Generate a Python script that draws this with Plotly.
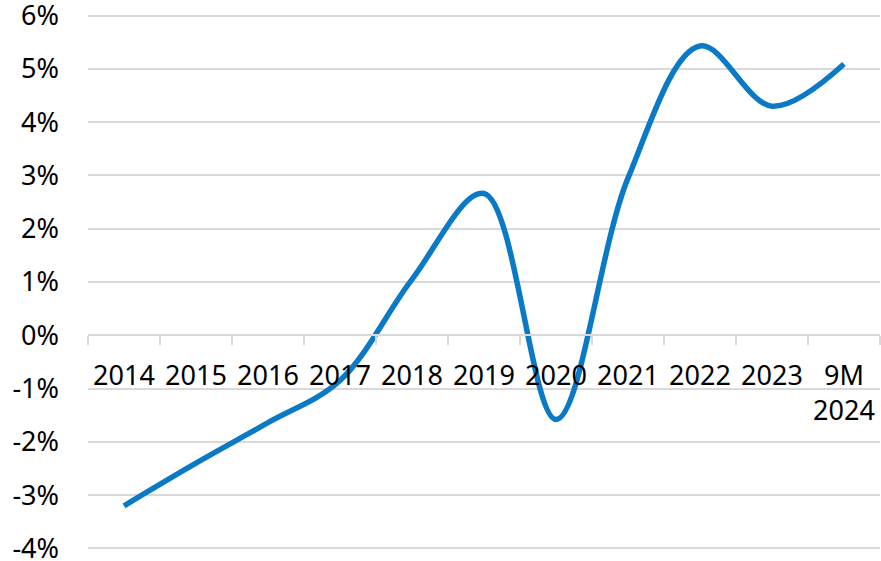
import plotly.graph_objects as go

# Annual growth, %
categories = ["2014", "2015", "2016", "2017", "2018", "2019", "2020",
              "2021", "2022", "2023", "9M<br>2024"]
growth = [-3.2, -2.4, -1.64, -0.85, 1.05, 2.66, -1.58, 2.95, 5.43, 4.3, 5.09]

y_ticks = [-4, -3, -2, -1, 0, 1, 2, 3, 4, 5, 6]
y_tick_text = [f"{v}%" for v in y_ticks]

FONT = "Noto Sans"
GRID = "#d9d9d9"

# small padding so the outermost gridlines and labels are kept
y_range = [-4.03, 6.03]
zero_pos = (0 - y_range[0]) / (y_range[1] - y_range[0])

fig = go.Figure(
    go.Scatter(
        x=categories,
        y=growth,
        mode="lines",
        line=dict(color="#0a7ac6", width=5.5, shape="spline", smoothing=1.0),
        hoverinfo="x+y",
    )
)

fig.update_layout(
    width=881,
    height=561,
    margin=dict(l=88, r=1, t=14, b=11),
    paper_bgcolor="white",
    plot_bgcolor="white",
    showlegend=False,
    font=dict(family=FONT, size=27, color="#000000"),
    xaxis=dict(
        type="category",
        anchor="free",
        position=zero_pos,
        automargin=False,
        showline=True,
        linecolor=GRID,
        linewidth=2,
        showgrid=False,
        zeroline=False,
        ticks="outside",
        tickson="boundaries",
        ticklen=9,
        tickwidth=2,
        tickcolor=GRID,
        ticklabelstandoff=16,
        tickfont=dict(family=FONT, size=27),
        range=[-0.5, len(categories) - 0.5],
    ),
    yaxis=dict(
        range=y_range,
        automargin=False,
        tickvals=y_ticks,
        ticktext=y_tick_text,
        showgrid=True,
        gridcolor=GRID,
        gridwidth=2,
        zeroline=False,
        showline=False,
        ticks="",
        ticklabelstandoff=28,
        ticklabeloverflow="allow",
        tickfont=dict(family=FONT, size=27),
    ),
)

fig.write_html("out.html")
